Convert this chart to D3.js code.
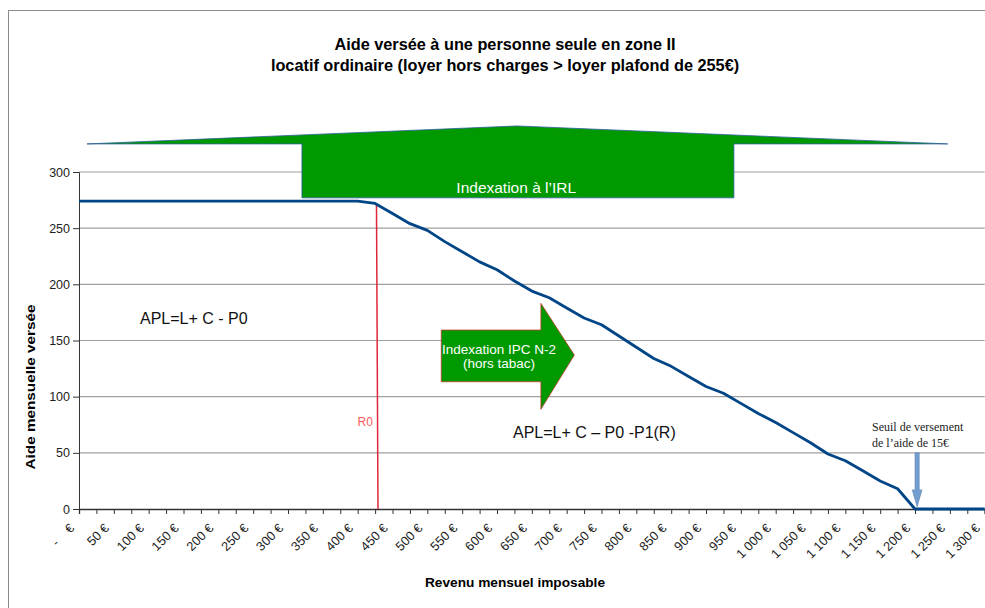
<html>
  <head>
    <script src="https://cdn.jsdelivr.net/npm/d3@7/dist/d3.min.js" charset="utf-8"></script>
    <style type="text/css">
      body { margin: 0; padding: 0; background: #fff; }
      svg { font-family: "Liberation Sans", Arial, sans-serif; }
    </style>
  </head>
  <body>
    <div id="chart"></div>
    <script type="text/javascript">
      // revenu mensuel (pas de 25 €) et aide versée
      var revenus = d3.range(0, 1325, 25);
      var aides = [274, 274, 274, 274, 274, 274, 274, 274, 274, 274, 274, 274, 274, 274, 274, 274,
                   274, 272, 263, 254, 248, 238, 229, 220, 213, 203, 194, 188, 179, 170, 164, 154,
                   144, 134, 127, 118, 109, 103, 94, 85, 77, 68, 59, 49, 43, 34, 25, 18, 0,
                   0, 0, 0, 0];
      var yTicks = [0, 50, 100, 150, 200, 250, 300];
      var r0 = 427;
      var seuil = 1203;

      var width = 985, height = 608;
      var x = d3.scaleLinear().domain([0, 1300]).range([79, 984.7]);
      var y = d3.scaleLinear().domain([0, 300]).range([509, 172]);

      var svg = d3.select("#chart").append("svg")
          .attr("width", width).attr("height", height);

      svg.append("rect")
          .attr("x", 8.5).attr("y", 10.5).attr("width", 1000).attr("height", 700)
          .attr("fill", "none").attr("stroke", "#8c8c8c");

      // titre
      var title = svg.append("text").attr("text-anchor", "middle")
          .attr("font-weight", "bold").attr("font-size", "16.3px").attr("fill", "#000");
      title.append("tspan").attr("x", 505).attr("y", 50).text("Aide versée à une personne seule en zone II");
      title.append("tspan").attr("x", 505).attr("y", 71).text("locatif ordinaire (loyer hors charges > loyer plafond de 255€)");

      // grille
      svg.append("g").selectAll("line").data(yTicks.slice(1)).enter().append("line")
          .attr("x1", x(0)).attr("x2", x(1300))
          .attr("y1", function(d) { return y(d); }).attr("y2", function(d) { return y(d); })
          .attr("stroke", "#a0a0a0").attr("stroke-width", 1.2);

      // axe y
      var yAxis = svg.append("g").attr("transform", "translate(" + x(0) + ",0)")
          .call(d3.axisLeft(y).tickValues(yTicks).tickSize(6).tickPadding(3));
      yAxis.select(".domain").attr("stroke", "#333");
      yAxis.selectAll(".tick line").attr("stroke", "#333");
      yAxis.selectAll("text").attr("font-size", "12.5px").attr("fill", "#222")
          .attr("font-family", "Liberation Sans, Arial, sans-serif");

      // axe x
      var xAxis = svg.append("g").attr("transform", "translate(0," + y(0) + ")")
          .call(d3.axisBottom(x).tickValues(revenus).tickSize(5).tickFormat(""));
      xAxis.select(".domain").attr("stroke", "#333").attr("stroke-width", 1.3);
      xAxis.selectAll(".tick line").attr("stroke", "#333");

      var fmt = d3.formatLocale({ decimal: ",", thousands: " ", grouping: [3], currency: ["", " €"] }).format(",");
      svg.append("g").selectAll("text").data(revenus.filter(function(d) { return d % 50 == 0; }))
          .enter().append("text")
          .attr("transform", function(d) { return "translate(" + (x(d) - 4) + "," + (y(0) + 20) + ") rotate(-45)"; })
          .attr("text-anchor", "end")
          .style("white-space", "pre")
          .attr("font-size", "12.8px").attr("fill", "#222")
          .text(function(d) { return d == 0 ? "-    €" : fmt(d) + " €"; });

      // titres des axes
      svg.append("text").attr("x", 515).attr("y", 587).attr("text-anchor", "middle")
          .attr("font-weight", "bold").attr("font-size", "13.5px")
          .attr("textLength", 180).attr("lengthAdjust", "spacingAndGlyphs")
          .text("Revenu mensuel imposable");
      svg.append("text").attr("transform", "translate(35,387) rotate(-90)").attr("text-anchor", "middle")
          .attr("font-weight", "bold").attr("font-size", "13.5px")
          .attr("textLength", 165).attr("lengthAdjust", "spacingAndGlyphs")
          .text("Aide mensuelle versée");

      // flèche indexation IRL
      var irl = [[11.5, 325], [629, 341], [1247, 325], [940, 325], [940, 277], [320, 277], [320, 325]];
      svg.append("path")
          .attr("d", d3.line().x(function(d) { return x(d[0]); }).y(function(d) { return y(d[1]); })(irl) + "Z")
          .attr("fill", "#009900").attr("stroke", "#2f5f9a").attr("stroke-width", 0.8);
      svg.append("text").attr("x", x(629) - 1).attr("y", y(277) - 5).attr("text-anchor", "middle")
          .attr("font-size", "15.5px").attr("fill", "#fff").text("Indexation à l’IRL");

      // ligne R0
      svg.append("line")
          .attr("x1", x(r0)).attr("x2", x(r0) + 1.5)
          .attr("y1", y(272)).attr("y2", y(0))
          .attr("stroke", "#e0263c").attr("stroke-width", 1.5);
      svg.append("text").attr("x", x(r0) - 19).attr("y", y(70) - 4)
          .attr("font-size", "12px").attr("fill", "#ff5a5a").text("R0");

      // courbe
      svg.append("path")
          .datum(revenus.map(function(d, i) { return [d, aides[i]]; }))
          .attr("d", d3.line().x(function(d) { return x(d[0]); }).y(function(d) { return y(d[1]); }))
          .attr("fill", "none").attr("stroke", "#004586").attr("stroke-width", 2.8)
          .attr("stroke-linejoin", "round");

      // flèche IPC
      var ipc = [[520, 159.3], [663, 159.3], [663, 183], [711, 137], [663, 88.8], [663, 113.3], [520, 113.3]];
      svg.append("path")
          .attr("d", d3.line().x(function(d) { return x(d[0]); }).y(function(d) { return y(d[1]); })(ipc) + "Z")
          .attr("fill", "#009900").attr("stroke", "#c0392b").attr("stroke-width", 0.8);
      var ipcText = svg.append("text").attr("text-anchor", "middle")
          .attr("font-size", "13.5px").attr("fill", "#fff");
      ipcText.append("tspan").attr("x", 499).attr("y", 354).text("Indexation IPC N-2");
      ipcText.append("tspan").attr("x", 499).attr("y", 368).text("(hors tabac)");

      // formules
      svg.append("text").attr("x", 140).attr("y", 324).attr("font-size", "16px").attr("fill", "#111")
          .text("APL=L+ C - P0");
      svg.append("text").attr("x", 513).attr("y", 438).attr("font-size", "16px").attr("fill", "#111")
          .text("APL=L+ C – P0 -P1(R)");

      // seuil de versement
      var seuilText = svg.append("text").attr("font-family", "Liberation Serif, Times New Roman, serif")
          .attr("font-size", "12px").attr("fill", "#222");
      seuilText.append("tspan").attr("x", 872).attr("y", 431).text("Seuil de versement");
      seuilText.append("tspan").attr("x", 872).attr("y", 447).text("de l’aide de 15€");

      var fleche = [[seuil - 3, 50], [seuil + 3, 50], [seuil + 3, 17], [seuil + 7, 17], [seuil, 2], [seuil - 7, 17], [seuil - 3, 17]];
      svg.append("path")
          .attr("d", d3.line().x(function(d) { return x(d[0]); }).y(function(d) { return y(d[1]); })(fleche) + "Z")
          .attr("fill", "#729fcf").attr("stroke", "#5a83b5").attr("stroke-width", 0.6);
    </script>
  </body>
</html>
